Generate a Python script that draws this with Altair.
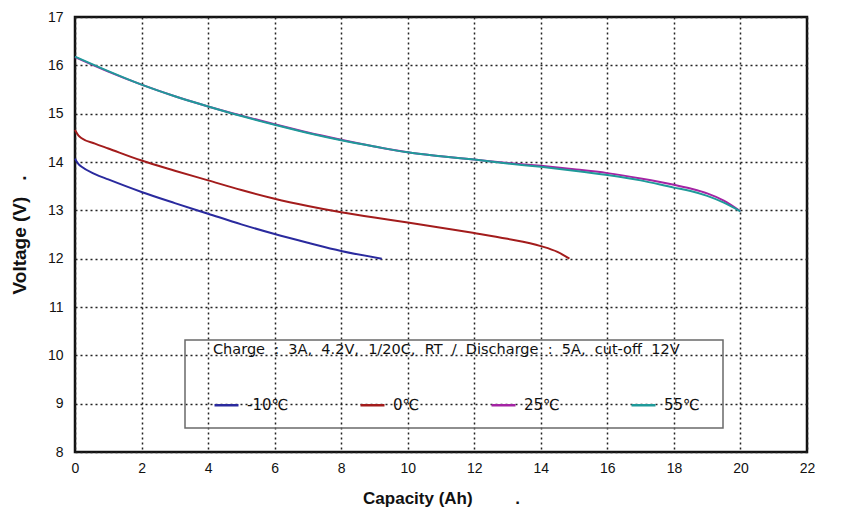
import altair as alt
import pandas as pd

# -10℃
x_m10 = [0, 0.1, 0.2, 0.6, 1, 2, 3, 4, 5, 6, 7, 8, 9.22]
y_m10 = [14.07, 13.96, 13.9, 13.75, 13.64, 13.38, 13.15, 12.93, 12.71, 12.51, 12.33, 12.16, 12.0]
# 0℃
x_0 = [0, 0.1, 0.2, 0.6, 1, 2, 3, 4, 5, 6, 7, 8, 9, 10, 11, 12, 13, 14, 14.5, 14.86]
y_0 = [14.66, 14.55, 14.49, 14.38, 14.28, 14.03, 13.82, 13.62, 13.42, 13.24, 13.09, 12.96, 12.85, 12.75, 12.64, 12.53, 12.41, 12.26, 12.14, 12.0]
# 25℃
x_25 = [0, 1, 2, 3, 4, 5, 6, 7, 8, 9, 10, 11, 12, 13, 14, 15, 16, 17, 18, 18.5, 19, 19.5, 20]
y_25 = [16.17, 15.87, 15.6, 15.36, 15.15, 14.96, 14.78, 14.61, 14.46, 14.32, 14.2, 14.12, 14.05, 13.98, 13.92, 13.85, 13.77, 13.66, 13.53, 13.45, 13.35, 13.2, 12.98]
# 55℃
x_55 = [0, 1, 2, 3, 4, 5, 6, 7, 8, 9, 10, 11, 12, 13, 14, 15, 16, 17, 18, 18.5, 19, 19.5, 20]
y_55 = [16.18, 15.88, 15.6, 15.36, 15.15, 14.95, 14.77, 14.6, 14.45, 14.32, 14.2, 14.12, 14.05, 13.97, 13.9, 13.82, 13.73, 13.62, 13.47, 13.4, 13.3, 13.16, 12.98]

series_names = ["-10℃", "0℃", "25℃", "55℃"]
series_colors = ["#2a2a9e", "#a31c1c", "#a424a4", "#1f9a9a"]
x_ticks = list(range(0, 23, 2))
y_ticks = list(range(8, 18))

NB = "\u00a0"
legend_title = (f"Charge{NB}{NB}:{NB}{NB}3A,{NB}{NB}4.2V,{NB}{NB}1/20C,{NB}{NB}RT{NB}{NB}/"
                f"{NB}{NB}Discharge{NB}{NB}:{NB}{NB}5A,{NB}{NB}cut-off{NB}{NB}12V")
x_title = "Capacity (Ah)" + NB * 9 + "."
y_title = "Voltage (V)" + NB * 3 + "."

rows = []
for name, xs, ys in zip(series_names, [x_m10, x_0, x_25, x_55], [y_m10, y_0, y_25, y_55]):
    for i, (a, b) in enumerate(zip(xs, ys)):
        rows.append({"series": name, "cap": a, "volt": b, "i": i})
df = pd.DataFrame(rows)

font = "Liberation Sans, DejaVu Sans"
legend_font = "DejaVu Sans"
title_font = "Liberation Sans Narrow, Arial Narrow, Liberation Sans"

lines = alt.Chart(df).mark_line(strokeWidth=2, interpolate="monotone").encode(
    x=alt.X("cap:Q", scale=alt.Scale(domain=[0, 22], nice=False),
            axis=alt.Axis(values=x_ticks, title=x_title, titlePadding=15,
                          labelPadding=9, titleFontSize=17, labelFlush=False)),
    y=alt.Y("volt:Q", scale=alt.Scale(domain=[8, 17], nice=False, zero=False),
            axis=alt.Axis(values=y_ticks, title=y_title, titlePadding=18,
                          labelPadding=12, titleFontSize=19, labelFlush=False)),
    color=alt.Color("series:N",
                    scale=alt.Scale(domain=series_names, range=series_colors),
                    legend=alt.Legend(
                        title=legend_title,
                        orient="none", legendX=138, legendY=326,
                        direction="horizontal", columns=4,
                        titleFontSize=14.5, titleFontWeight="normal", titleFont=legend_font,
                        titleColor="#111", titlePadding=34, titleLimit=760,
                        symbolType="stroke", symbolSize=576, symbolStrokeWidth=2.5,
                        labelFontSize=15, labelFont=legend_font, labelColor="#111",
                        labelOffset=7, columnPadding=66)),
    order=alt.Order("i:Q"),
)

box = alt.Chart(pd.DataFrame({"a": [0]})).mark_rect(
    fill=None, stroke="#6a6a6a", strokeWidth=1.5
).encode(
    x=alt.value(110), x2=alt.value(648), y=alt.value(323), y2=alt.value(411)
)

chart = alt.layer(box, lines).properties(
    width=732, height=435,
    autosize=alt.AutoSizeParams(type="none"),
    padding={"left": 67, "top": 9, "right": 30, "bottom": 56},
    background="white",
).configure_view(
    stroke="#111", strokeWidth=2.5
).configure_axis(
    domain=False, ticks=False,
    grid=True, gridColor="#222", gridDash=[2, 3], gridWidth=1.5, gridOpacity=1,
    labelFont=font, labelFontSize=14, labelColor="#111",
    titleFont=title_font, titleFontWeight="bold", titleColor="#111",
)

chart.save("out.html", embed_options={"renderer": "svg", "actions": False})
